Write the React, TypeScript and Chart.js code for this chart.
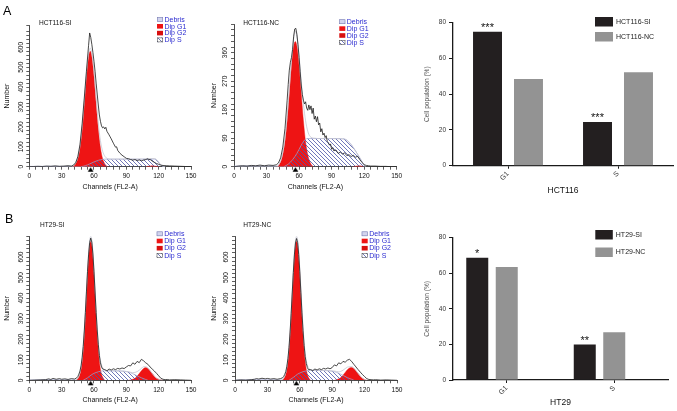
import React, { useEffect, useRef } from 'react';
import { Chart, registerables } from 'chart.js';

Chart.register(...registerables);

const FONT = '"Liberation Sans", Arial, Helvetica, sans-serif';
Chart.defaults.font.family = FONT;
Chart.defaults.color = '#111';

type Pair = [number, number];

// ---------------- Histogram data: [channel, count] ----------------
// HCT116-SI
const hctSiCounts: Pair[] = [[0,0],[4,1],[8,2],[12,1],[16,3],[20,2],[24,4],[28,2],[32,3],[36,5],[39,3],[41,8],[43,20],[45,50],[47,110],[49,215],[51,345],[53,480],[55,610],[56,672],[57,650],[58,615],[59,575],[60,530],[61,480],[62,420],[63,365],[64,310],[65,260],[66,228],[67,205],[68,195],[69,200],[70,190],[71,198],[72,178],[74,160],[75,150],[76,140],[78,118],[80,98],[81,100],[82,82],[84,68],[86,58],[88,50],[90,42],[92,40],[94,36],[96,33],[98,36],[100,31],[102,34],[104,30],[106,33],[108,36],[110,40],[111,35],[112,37],[114,28],[116,22],[118,16],[120,12],[122,8],[124,6],[127,5],[130,4],[135,3],[140,2],[145,1],[150,0]];
const hctSiG1: Pair[] = [[40,0],[41.5,4],[43,15],[45,41],[47,95],[49,188],[51,317],[53,454],[55,554],[56.5,580],[58,554],[60,454],[62,317],[64,188],[66,95],[68,41],[70,15],[71.5,4],[73,0]];
const hctSiS: Pair[] = [[48,0],[52,5],[56,14],[60,24],[64,32],[68,37],[72,38],[90,38],[105,38],[116,38],[118,34],[120,22],[122,9],[124,2],[126,0]];
const hctSiG2: Pair[] = [[108,0],[111,3],[114,5],[117,3],[120,0]];
const hctSiFit: Pair[] = [[40,0],[43,18],[45,45],[47,102],[49,196],[51,327],[53,466],[55,568],[56.5,596],[58,570],[60,478],[62,343],[64,220],[66,130],[68,78],[70,53],[72,42],[76,38],[90,38],[105,38],[112,41],[116,41],[118,36],[120,22],[122,9],[124,2],[126,0]];
const hctSiDebris: Pair[] = [[0,2],[10,2],[20,3],[30,2],[40,2],[50,1],[60,0]];
const hctSiMarker = 56.9;

// HCT116-NC
const hctNcCounts: Pair[] = [[0,0],[4,2],[8,3],[12,2],[16,4],[20,3],[24,5],[28,3],[32,5],[36,4],[39,6],[41,12],[43,28],[45,62],[47,120],[49,210],[50,260],[51,305],[52,330],[53,345],[54,370],[55,412],[56,435],[57,437],[58,418],[59,385],[60,345],[61,300],[62,258],[63,228],[64,210],[65,198],[66,205],[67,185],[68,178],[69,195],[70,180],[71,192],[72,168],[73,185],[74,150],[75,160],[76,142],[77,158],[78,132],[79,138],[80,110],[81,120],[82,100],[83,106],[84,92],[85,98],[86,80],[87,76],[88,68],[89,72],[90,55],[91,60],[92,50],[94,53],[96,42],[98,46],[100,40],[102,44],[104,35],[106,38],[108,32],[110,36],[112,30],[114,33],[116,22],[118,14],[120,6],[122,4],[124,3],[126,2],[130,2],[135,1],[140,1],[145,0],[150,0]];
const hctNcG1: Pair[] = [[40,0],[41.5,5],[43,15],[45,38],[47,79],[49,145],[51,231],[53,318],[55,380],[56.5,395],[58,380],[60,318],[62,231],[64,145],[66,79],[68,38],[70,15],[71.5,5],[73,0]];
const hctNcS: Pair[] = [[46,0],[50,8],[54,22],[58,42],[62,68],[65,84],[68,89],[80,89],[90,89],[100,88],[104,84],[108,70],[112,50],[116,28],[119,10],[121,0]];
const hctNcG2: Pair[] = [[110,0],[113,2],[116,3],[119,0]];
const hctNcFit: Pair[] = [[40,0],[43,18],[45,45],[47,90],[49,158],[51,245],[53,335],[55,405],[56.5,428],[58,412],[60,350],[62,268],[64,198],[66,145],[68,112],[70,96],[74,90],[80,89],[100,88],[104,84],[108,70],[112,50],[116,28],[119,10],[121,0]];
const hctNcDebris: Pair[] = [[0,2],[10,3],[20,3],[30,3],[40,2],[50,1],[60,0]];
const hctNcMarker = 56.6;

// HT29-SI
const htSiCounts: Pair[] = [[0,0],[5,1],[10,2],[15,3],[18,7],[20,4],[22,9],[25,5],[28,8],[30,5],[33,7],[36,4],[39,8],[42,6],[44,12],[45,18],[46,30],[47,45],[48,70],[49,110],[50,165],[51,240],[52,330],[53,430],[54,530],[55,610],[56,670],[57,692],[58,672],[59,615],[60,530],[61,430],[62,330],[63,245],[64,175],[65,120],[66,85],[67,65],[68,55],[70,52],[72,46],[74,55],[76,50],[78,56],[80,52],[82,58],[84,55],[86,60],[88,57],[90,65],[92,72],[94,70],[96,85],[98,78],[100,92],[102,86],[104,102],[106,95],[108,85],[110,78],[112,65],[114,55],[116,45],[118,34],[120,22],[122,10],[124,5],[126,3],[128,4],[130,2],[135,3],[140,2],[145,1],[150,0]];
const htSiG1: Pair[] = [[44,0],[45,7],[46,16],[47,30],[48,54],[49,91],[50,146],[51,219],[52,309],[53,410],[54,510],[55,595],[56,654],[57,675],[58,654],[59,595],[60,510],[61,410],[62,309],[63,219],[64,146],[65,91],[66,54],[67,30],[68,16],[69,7],[70,0]];
const htSiS: Pair[] = [[50,0],[54,12],[58,28],[62,38],[66,44],[70,46],[80,46],[88,44],[92,40],[96,32],[100,22],[104,12],[108,4],[110,0]];
const htSiG2: Pair[] = [[92,0],[94,2],[96,5],[98,10],[100,20],[102,33],[104,46],[106,58],[108,62],[110,58],[112,46],[114,33],[116,20],[118,10],[120,5],[122,2],[124,0]];
const htSiFit: Pair[] = [[43,0],[45,10],[47,36],[49,100],[51,232],[53,428],[55,618],[56,678],[57,702],[58,682],[59,625],[60,542],[61,444],[62,345],[63,257],[64,185],[65,132],[66,96],[67,74],[68,62],[70,50],[80,46],[88,44],[92,42],[96,37],[100,42],[104,58],[106,66],[108,66],[110,60],[112,47],[114,33],[116,20],[118,10],[120,5],[122,2],[124,0]];
const htSiDebris: Pair[] = [[0,2],[10,3],[20,4],[30,3],[40,3],[50,1],[60,0]];
const htSiMarker = 56.9;

// HT29-NC
const htNcCounts: Pair[] = [[0,0],[5,2],[10,1],[15,3],[18,5],[20,8],[22,6],[25,10],[28,7],[30,9],[33,6],[36,8],[39,5],[42,8],[44,12],[45,18],[46,28],[47,42],[48,68],[49,105],[50,160],[51,235],[52,325],[53,425],[54,525],[55,610],[56,668],[57,690],[58,670],[59,612],[60,528],[61,428],[62,328],[63,242],[64,170],[65,115],[66,82],[67,62],[68,52],[70,52],[72,47],[74,55],[76,50],[78,56],[80,52],[82,58],[84,55],[86,60],[88,56],[90,62],[92,75],[94,70],[96,85],[98,80],[100,92],[102,88],[104,98],[106,102],[108,92],[110,78],[112,65],[114,52],[116,40],[118,28],[120,18],[122,8],[124,4],[126,3],[128,2],[130,3],[135,1],[140,2],[145,1],[150,0]];
const htNcG1: Pair[] = [[44,0],[45,6],[46,15],[47,29],[48,53],[49,90],[50,145],[51,218],[52,308],[53,409],[54,510],[55,596],[56,655],[57,676],[58,655],[59,596],[60,510],[61,409],[62,308],[63,218],[64,145],[65,90],[66,53],[67,29],[68,15],[69,6],[70,0]];
const htNcS: Pair[] = [[50,0],[54,14],[58,30],[62,40],[66,46],[70,48],[80,48],[88,46],[92,42],[96,34],[100,24],[104,13],[108,5],[110,0]];
const htNcG2: Pair[] = [[92,0],[94,3],[96,7],[98,14],[100,25],[102,38],[104,51],[106,60],[108,62],[110,57],[112,46],[114,33],[116,20],[118,10],[120,4],[122,0]];
const htNcFit: Pair[] = [[43,0],[45,10],[47,36],[49,100],[51,232],[53,428],[55,618],[56,678],[57,702],[58,682],[59,625],[60,542],[61,444],[62,345],[63,257],[64,185],[65,132],[66,96],[67,74],[68,62],[70,51],[80,48],[88,46],[92,45],[96,41],[100,49],[104,64],[106,66],[108,67],[110,60],[112,47],[114,33],[116,20],[118,10],[120,4],[122,0]];
const htNcDebris: Pair[] = [[0,2],[10,3],[20,5],[30,4],[40,3],[50,1],[60,0]];
const htNcMarker = 56.8;

const legendNames = ['Debris', 'Dip G1', 'Dip G2', 'Dip S'];

// ---------------- Bar data (%) ----------------
const phases = ['G1', 'S'];
const hctSiPct = [74.9, 24.5];
const hctNcPct = [48.5, 52.3];
const ht29SiPct = [68.7, 20.0];
const ht29NcPct = [63.5, 26.8];
const hctStars = ['***', '***'];
const ht29Stars = ['*', '**'];

// ---------------- Styling ----------------
const RED = '#ee1414';
const DEBRIS = '#d2d4ee';
const HATCH = '#4d55a8';
const LEGEND_TEXT = '#2a2ad0';
const DARK = '#231f20';
const GRAY = '#939393';
const AXIS = '#1a1a1a';

interface Area { l: number; t: number; r: number; b: number }
interface HistSpec {
  left: number; top: number; w: number; h: number; area: Area;
  yMax: number; yStep: number; yLabelStep: number; yLabelMax: number;
  yTitlePad: number; xTitlePad: number;
  title: string; titleX: number; titleY: number;
  legendX: number; legendY: number; legendGap: number;
  letter?: string; letterX?: number; letterY?: number;
  counts: Pair[]; fit: Pair[]; s: Pair[]; g1: Pair[]; g2: Pair[]; debris: Pair[]; marker: number;
}

const HISTS: HistSpec[] = [
  { left: 0, top: 0, w: 210, h: 200, area: { l: 29.3, t: 25.4, r: 191, b: 166.7 },
    yMax: 710, yStep: 20, yLabelStep: 100, yLabelMax: 600, yTitlePad: 2.5, xTitlePad: 8.3,
    title: 'HCT116-SI', titleX: 39, titleY: 23.3, legendX: 157, legendY: 19.5, legendGap: 6.8,
    letter: 'A', letterX: 3, letterY: 15,
    counts: hctSiCounts, fit: hctSiFit, s: hctSiS, g1: hctSiG1, g2: hctSiG2, debris: hctSiDebris, marker: hctSiMarker },
  { left: 205, top: 0, w: 210, h: 200, area: { l: 29, t: 24.2, r: 191.7, b: 166.7 },
    yMax: 450, yStep: 18, yLabelStep: 90, yLabelMax: 360, yTitlePad: 4.8, xTitlePad: 8.3,
    title: 'HCT116-NC', titleX: 38.3, titleY: 23.3, legendX: 134.3, legendY: 21.7, legendGap: 6.9,
    counts: hctNcCounts, fit: hctNcFit, s: hctNcS, g1: hctNcG1, g2: hctNcG2, debris: hctNcDebris, marker: hctNcMarker },
  { left: 0, top: 200, w: 210, h: 211, area: { l: 29.3, t: 36.45, r: 191, b: 180.3 },
    yMax: 700, yStep: 20, yLabelStep: 100, yLabelMax: 600, yTitlePad: 2.5, xTitlePad: 6.5,
    title: 'HT29-SI', titleX: 40, titleY: 25.5, legendX: 156.7, legendY: 33.8, legendGap: 7.2,
    letter: 'B', letterX: 5, letterY: 22.7,
    counts: htSiCounts, fit: htSiFit, s: htSiS, g1: htSiG1, g2: htSiG2, debris: htSiDebris, marker: htSiMarker },
  { left: 205, top: 200, w: 210, h: 211, area: { l: 30, t: 36.45, r: 192, b: 180.3 },
    yMax: 700, yStep: 20, yLabelStep: 100, yLabelMax: 600, yTitlePad: 4.5, xTitlePad: 6.5,
    title: 'HT29-NC', titleX: 38.3, titleY: 25.5, legendX: 156.7, legendY: 33.8, legendGap: 7.2,
    counts: htNcCounts, fit: htNcFit, s: htNcS, g1: htNcG1, g2: htNcG2, debris: htNcDebris, marker: htNcMarker },
];

interface BarSpec {
  left: number; top: number; w: number; h: number; area: Area;
  si: number[]; nc: number[]; siLabel: string; ncLabel: string; stars: string[];
  xTitle: string; xTitlePad: number; catPct: number; barPct: number; spacer: boolean;
  legendX: number; legendY: number[]; boxW: number; boxH: number;
}

const BARS: BarSpec[] = [
  { left: 410, top: 0, w: 267, h: 200, area: { l: 43, t: 22.7, r: 263, b: 165.7 },
    si: hctSiPct, nc: hctNcPct, siLabel: 'HCT116-SI', ncLabel: 'HCT116-NC', stars: hctStars,
    xTitle: 'HCT116', xTitlePad: 3.9, catPct: 0.745, barPct: 0.707, spacer: false,
    legendX: 185, legendY: [17, 32], boxW: 18, boxH: 9.5 },
  { left: 410, top: 200, w: 267, h: 211, area: { l: 43, t: 37.7, r: 258, b: 180 },
    si: ht29SiPct, nc: ht29NcPct, siLabel: 'HT29-SI', ncLabel: 'HT29-NC', stars: ht29Stars,
    xTitle: 'HT29', xTitlePad: 3.2, catPct: 0.823, barPct: 0.746, spacer: true,
    legendX: 185.3, legendY: [30, 47.5], boxW: 17.5, boxH: 9.5 },
];

const toXY = (p: Pair[]) => p.map(([x, y]) => ({ x, y }));

function makeHatch(ctx: CanvasRenderingContext2D): CanvasPattern | string {
  const t = document.createElement('canvas');
  t.width = 4; t.height = 4;
  const c = t.getContext('2d')!;
  c.strokeStyle = HATCH;
  c.lineWidth = 0.8;
  c.beginPath();
  c.moveTo(0, 0); c.lineTo(4, 4);
  c.moveTo(-1, 3); c.lineTo(1, 5);
  c.moveTo(3, -1); c.lineTo(5, 1);
  c.stroke();
  return ctx.createPattern(t, 'repeat') || HATCH;
}

function makeTriangle(): HTMLCanvasElement {
  const t = document.createElement('canvas');
  t.width = 7; t.height = 12;
  const c = t.getContext('2d')!;
  c.fillStyle = '#000';
  c.beginPath();
  c.moveTo(3.5, 6.6); c.lineTo(6.4, 11); c.lineTo(0.6, 11); c.closePath();
  c.fill();
  return t;
}

function histPlugin(spec: HistSpec, hatch: CanvasPattern | string) {
  return {
    id: 'histDecor',
    afterDraw(chart: any) {
      const ctx: CanvasRenderingContext2D = chart.ctx;
      ctx.save();
      if (spec.letter) {
        ctx.font = `12.5px ${FONT}`;
        ctx.fillStyle = '#000';
        ctx.textAlign = 'left';
        ctx.textBaseline = 'alphabetic';
        ctx.fillText(spec.letter, spec.letterX!, spec.letterY!);
      }
      ctx.font = `6.6px ${FONT}`;
      ctx.fillStyle = '#111';
      ctx.textAlign = 'left';
      ctx.textBaseline = 'middle';
      ctx.fillText(spec.title, spec.titleX, spec.titleY);
      const fills: (string | CanvasPattern)[] = [DEBRIS, RED, '#d80f0f', hatch];
      legendNames.forEach((name, i) => {
        const y = spec.legendY + i * spec.legendGap;
        const bx = spec.legendX, bw = 6, bh = 4.6;
        if (i === 3) { ctx.fillStyle = '#fff'; ctx.fillRect(bx, y - bh / 2, bw, bh); }
        ctx.fillStyle = fills[i] as any;
        ctx.fillRect(bx, y - bh / 2, bw, bh);
        if (i === 0 || i === 3) {
          ctx.strokeStyle = i === 0 ? '#7c80b4' : '#555';
          ctx.lineWidth = 0.6;
          ctx.strokeRect(bx + 0.3, y - bh / 2 + 0.3, bw - 0.6, bh - 0.6);
        }
        ctx.fillStyle = LEGEND_TEXT;
        ctx.font = `7px ${FONT}`;
        ctx.textBaseline = 'middle';
        ctx.fillText(name, bx + 7.5, y + 0.3);
      });
      ctx.restore();
    },
  };
}

function histConfig(spec: HistSpec, hatch: CanvasPattern | string, tri: HTMLCanvasElement): any {
  const { area, w, h } = spec;
  const smooth = { pointRadius: 0, pointHoverRadius: 0, cubicInterpolationMode: 'monotone' };
  return {
    type: 'line',
    data: {
      datasets: [
        { label: 'G1 mean', data: [{ x: spec.marker, y: 0 }], showLine: false, pointStyle: tri, pointRadius: 4, clip: false, backgroundColor: '#000', borderColor: '#000' },
        { label: 'Data', data: toXY(spec.counts), borderColor: '#1c1c1c', borderWidth: 0.8, pointRadius: 0, tension: 0, fill: false },
        { label: 'Fit', data: toXY(spec.fit), borderColor: '#c6c6d2', borderWidth: 0.8, fill: false, ...smooth },
        { label: legendNames[3], data: toXY(spec.s), borderColor: '#a0a6d0', borderWidth: 0.7, backgroundColor: hatch, fill: 'origin', ...smooth },
        { label: legendNames[2], data: toXY(spec.g2), borderColor: RED, borderWidth: 0.4, backgroundColor: RED, fill: 'origin', ...smooth },
        { label: legendNames[1], data: toXY(spec.g1), borderColor: RED, borderWidth: 0.4, backgroundColor: RED, fill: 'origin', ...smooth },
        { label: legendNames[0], data: toXY(spec.debris), borderColor: '#b4b8dc', borderWidth: 0.5, backgroundColor: DEBRIS, fill: 'origin', ...smooth },
      ],
    },
    options: {
      responsive: false,
      animation: false,
      events: [],
      layout: { padding: { left: 0, top: area.t, right: w - area.r, bottom: 0 } },
      plugins: { legend: { display: false }, tooltip: { enabled: false }, title: { display: false } },
      scales: {
        x: {
          type: 'linear', min: 0, max: 150,
          afterFit: (s: any) => { s.height = h - area.b; },
          ticks: { stepSize: 6, autoSkip: false, minRotation: 0, maxRotation: 0, padding: 2.5, font: { size: 6.6 }, color: '#111',
            callback: (v: number) => (v % 30 === 0 ? String(v) : '') },
          grid: { display: true, drawOnChartArea: false, drawTicks: true, tickLength: 3, color: AXIS, tickWidth: 0.7 },
          border: { display: true, color: AXIS, width: 0.8 },
          title: { display: true, text: 'Channels (FL2-A)', font: { size: 7 }, color: '#111', padding: { top: 0, bottom: spec.xTitlePad } },
        },
        y: {
          type: 'linear', min: 0, max: spec.yMax,
          afterFit: (s: any) => { s.width = area.l; },
          ticks: { stepSize: spec.yStep, autoSkip: false, minRotation: 90, maxRotation: 90, crossAlign: 'center', padding: 0, font: { size: 6.6 }, color: '#111',
            callback: (v: number) => (v % spec.yLabelStep === 0 && v <= spec.yLabelMax ? String(v) : '') },
          grid: { display: true, drawOnChartArea: false, drawTicks: true, tickLength: 3, color: AXIS, tickWidth: 0.7 },
          border: { display: true, color: AXIS, width: 0.8 },
          title: { display: true, text: 'Number', font: { size: 7 }, color: '#111', padding: { top: spec.yTitlePad, bottom: 0 } },
        },
      },
    },
    plugins: [histPlugin(spec, hatch)],
  };
}

function barPlugin(spec: BarSpec) {
  return {
    id: 'barDecor',
    afterDraw(chart: any) {
      const ctx: CanvasRenderingContext2D = chart.ctx;
      ctx.save();
      const meta = chart.getDatasetMeta(0);
      ctx.font = `11px ${FONT}`;
      ctx.fillStyle = '#111';
      ctx.textAlign = 'center';
      ctx.textBaseline = 'alphabetic';
      meta.data.forEach((bar: any, i: number) => {
        ctx.fillText(spec.stars[i], bar.x, bar.y - 0.5);
      });
      const items = [0, 1].map((i) => chart.data.datasets[i]);
      items.forEach((ds: any, i: number) => {
        const y = spec.legendY[i];
        ctx.fillStyle = ds.backgroundColor;
        ctx.fillRect(spec.legendX, y, spec.boxW, spec.boxH);
        ctx.fillStyle = '#222';
        ctx.font = `7px ${FONT}`;
        ctx.textAlign = 'left';
        ctx.textBaseline = 'middle';
        ctx.fillText(ds.label, spec.legendX + spec.boxW + 3, y + spec.boxH / 2);
      });
      ctx.restore();
    },
  };
}

function barConfig(spec: BarSpec): any {
  const { area, w, h } = spec;
  const datasets: any[] = [
    { label: spec.siLabel, data: spec.si, backgroundColor: DARK, borderWidth: 0 },
    { label: spec.ncLabel, data: spec.nc, backgroundColor: GRAY, borderWidth: 0 },
  ];
  if (spec.spacer) datasets.push({ label: '', data: spec.si.map(() => null), backgroundColor: 'rgba(0,0,0,0)' });
  return {
    type: 'bar',
    data: { labels: phases, datasets },
    options: {
      responsive: false,
      animation: false,
      events: [],
      layout: { padding: { left: 0, top: area.t, right: w - area.r, bottom: 0 } },
      datasets: { bar: { categoryPercentage: spec.catPct, barPercentage: spec.barPct } },
      plugins: { legend: { display: false }, tooltip: { enabled: false } },
      scales: {
        x: {
          afterFit: (s: any) => { s.height = h - area.b; },
          ticks: { minRotation: 45, maxRotation: 45, padding: 1, font: { size: 7 }, color: '#333' },
          grid: { display: true, offset: false, drawOnChartArea: false, tickLength: 3, color: AXIS, tickWidth: 1 },
          border: { display: true, color: AXIS, width: 1.3 },
          title: { display: true, text: spec.xTitle, font: { size: 8.5 }, color: '#111', padding: { top: 0, bottom: spec.xTitlePad } },
        },
        y: {
          min: 0, max: 80,
          afterFit: (s: any) => { s.width = area.l; },
          ticks: { stepSize: 20, padding: 3, font: { size: 6.5 }, color: '#333' },
          grid: { display: true, drawOnChartArea: false, tickLength: 4, color: AXIS, tickWidth: 1 },
          border: { display: true, color: AXIS, width: 1.3 },
          title: { display: true, text: 'Cell population (%)', font: { size: 6.6 }, color: '#555', padding: { top: 13.5, bottom: 0 } },
        },
      },
    },
    plugins: [barPlugin(spec)],
  };
}

export default function App() {
  const histRefs = [useRef<HTMLCanvasElement>(null), useRef<HTMLCanvasElement>(null), useRef<HTMLCanvasElement>(null), useRef<HTMLCanvasElement>(null)];
  const barRefs = [useRef<HTMLCanvasElement>(null), useRef<HTMLCanvasElement>(null)];

  useEffect(() => {
    const charts: Chart[] = [];
    const tri = makeTriangle();
    HISTS.forEach((spec, i) => {
      const cv = histRefs[i].current;
      if (!cv) return;
      const ctx = cv.getContext('2d')!;
      const hatch = makeHatch(ctx);
      charts.push(new Chart(cv, histConfig(spec, hatch, tri)));
    });
    BARS.forEach((spec, i) => {
      const cv = barRefs[i].current;
      if (!cv) return;
      charts.push(new Chart(cv, barConfig(spec)));
    });
    return () => charts.forEach((c) => c.destroy());
  }, []);

  return (
    <div style={{ position: 'fixed', left: 0, top: 0, width: 677, height: 411, background: '#fff', overflow: 'hidden' }}>
      {HISTS.map((s, i) => (
        <canvas key={'h' + i} ref={histRefs[i]} width={s.w} height={s.h}
          style={{ position: 'absolute', left: s.left, top: s.top, width: s.w, height: s.h }} />
      ))}
      {BARS.map((s, i) => (
        <canvas key={'b' + i} ref={barRefs[i]} width={s.w} height={s.h}
          style={{ position: 'absolute', left: s.left, top: s.top, width: s.w, height: s.h }} />
      ))}
    </div>
  );
}
